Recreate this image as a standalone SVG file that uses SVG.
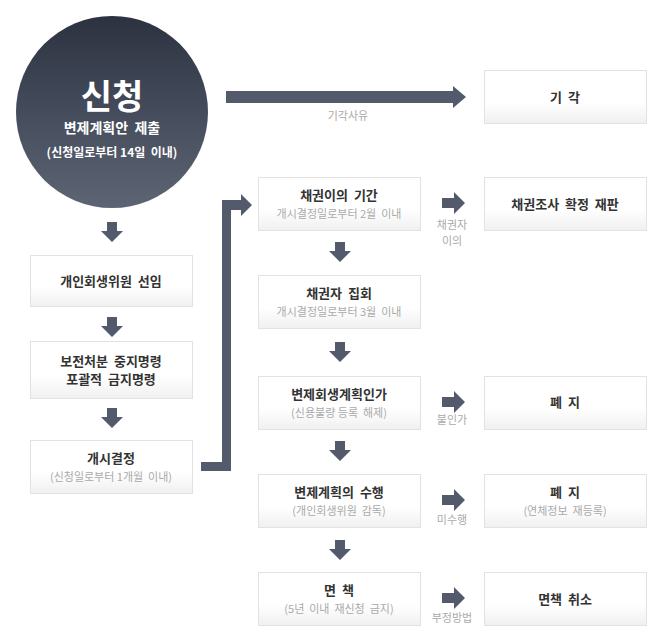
<svg xmlns="http://www.w3.org/2000/svg" width="664" height="643" viewBox="0 0 664 643">
<defs>
<linearGradient id="cg" x1="0" y1="0" x2="0" y2="1"><stop offset="0" stop-color="#2c3240"/><stop offset="1" stop-color="#5d6575"/></linearGradient>
<linearGradient id="bg" x1="0" y1="0" x2="0" y2="1"><stop offset="0" stop-color="#ffffff"/><stop offset="0.6" stop-color="#ffffff"/><stop offset="1" stop-color="#f0f0f0"/></linearGradient>
<path id="da" d="M-5,0 h10 v9 h6 l-11,11 l-11,-11 h6 z" fill="#525a6b"/>
<path id="ra" d="M0,-5 h12 v-6 l11,11 l-11,11 v-6 h-12 z" fill="#525a6b"/>
</defs>
<style>
text{white-space:pre}
.b{fill:url(#bg);stroke:#e2e2e2;stroke-width:1}
.t{font-family:"Noto Sans CJK KR","Noto Sans",sans-serif;font-size:13px;fill:#333;text-anchor:middle;font-weight:bold}
.s{font-family:"Noto Sans CJK KR","Noto Sans",sans-serif;font-size:11px;fill:#aaa;text-anchor:middle}
.w{font-family:"Noto Sans CJK KR","Noto Sans",sans-serif;fill:#fff;text-anchor:middle;font-weight:bold}
</style>
<rect width="664" height="643" fill="#fff"/>
<g id="n-apply"><circle cx="112" cy="112" r="96" fill="url(#cg)"/>
<text class="w" x="112" y="109" font-size="34" font-weight="normal">신청</text>
<text class="w" x="112" y="133" font-size="14">변제계획안  제출</text>
<text class="w" x="112" y="157" font-size="12">(신청일로부터 14일  이내)</text></g>
<g id="n-reject"><rect class="b" x="484.5" y="70.5" width="162" height="53"/><text class="t" x="565" y="102">기  각</text></g>
<g id="n-l1"><rect class="b" x="30.5" y="255.5" width="162" height="51"/><text class="t" x="111" y="286">개인회생위원  선임</text></g>
<g id="n-l2"><rect class="b" x="30.5" y="341.5" width="162" height="57"/><text class="t" x="111" y="366">보전처분  중지명령</text><text class="t" x="111" y="384">포괄적  금지명령</text></g>
<g id="n-l3"><rect class="b" x="30.5" y="440.5" width="162" height="53"/><text class="t" x="111" y="463">개시결정</text><text class="s" x="111" y="481">(신청일로부터 1개월  이내)</text></g>
<g id="n-m1"><rect class="b" x="258.5" y="177.5" width="162" height="53"/><text class="t" x="339" y="200">채권이의  기간</text><text class="s" x="339" y="218">개시결정일로부터 2월  이내</text></g>
<g id="n-m2"><rect class="b" x="258.5" y="275.5" width="162" height="53"/><text class="t" x="339" y="298">채권자  집회</text><text class="s" x="339" y="316">개시결정일로부터 3월  이내</text></g>
<g id="n-m3"><rect class="b" x="258.5" y="376.5" width="162" height="53"/><text class="t" x="339" y="399">변제회생계획인가</text><text class="s" x="339" y="417">(신용불량 등록  해제)</text></g>
<g id="n-m4"><rect class="b" x="258.5" y="474.5" width="162" height="53"/><text class="t" x="339" y="497">변제계획의  수행</text><text class="s" x="339" y="515">(개인회생위원  감독)</text></g>
<g id="n-m5"><rect class="b" x="258.5" y="572.5" width="162" height="53"/><text class="t" x="339" y="595">면  책</text><text class="s" x="339" y="613">(5년  이내  재신청  금지)</text></g>
<g id="n-r1"><rect class="b" x="484.5" y="177.5" width="162" height="53"/><text class="t" x="565" y="209">채권조사  확정  재판</text></g>
<g id="n-r2"><rect class="b" x="484.5" y="376.5" width="162" height="53"/><text class="t" x="565" y="407">폐  지</text></g>
<g id="n-r3"><rect class="b" x="484.5" y="474.5" width="162" height="53"/><text class="t" x="565" y="497">폐  지</text><text class="s" x="565" y="515">(연체정보  재등록)</text></g>
<g id="n-r4"><rect class="b" x="484.5" y="572.5" width="162" height="53"/><text class="t" x="565" y="604">면책  취소</text></g>
<g id="connectors">
<path d="M226,91 h227 v-5 l13,11 l-13,11 v-5 h-227 z" fill="#525a6b"/>
<text class="s" x="348" y="120">기각사유</text>
<path d="M201,462 h21 v-262 h19 v-6 l11,11 l-11,11 v-6 h-10 v261 h-30 z" fill="#525a6b"/>
<use href="#da" x="112" y="222"/><use href="#da" x="112" y="317"/><use href="#da" x="112" y="408"/>
<use href="#da" x="340" y="242"/><use href="#da" x="340" y="342"/><use href="#da" x="340" y="441"/><use href="#da" x="340" y="540"/>
<use href="#ra" x="442" y="203"/><use href="#ra" x="442" y="402"/><use href="#ra" x="442" y="500"/><use href="#ra" x="442" y="598"/>
<text class="s" x="452" y="229">채권자</text><text class="s" x="452" y="245">이의</text>
<text class="s" x="452" y="424">불인가</text>
<text class="s" x="452" y="524">미수행</text>
<text class="s" x="452" y="622">부정방법</text>
</g>
</svg>
